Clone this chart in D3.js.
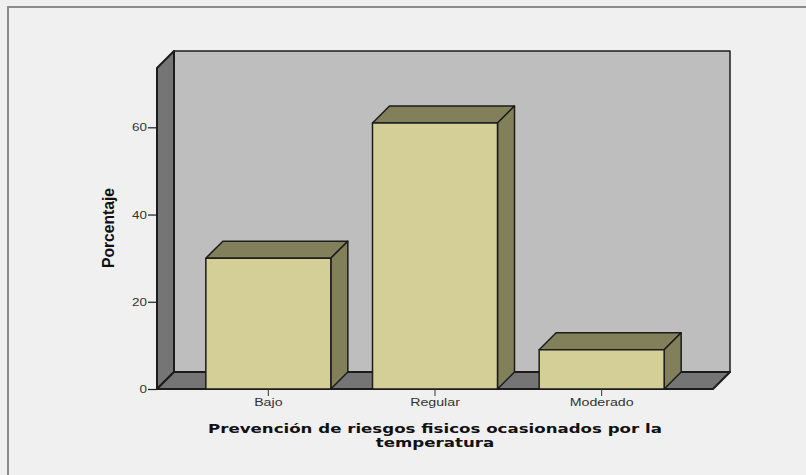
<!DOCTYPE html>
<html><head><meta charset="utf-8">
<script src="https://cdn.jsdelivr.net/npm/d3@7/dist/d3.min.js"></script>
<style>html,body{margin:0;padding:0;background:#f0f0f0}svg{display:block}</style>
</head><body><svg id="c" width="806" height="475"></svg>
<script>
const categories = ["Bajo","Regular","Moderado"];
const values = [30, 61, 9];
const yTicks = [0,20,40,60];
const xTitle = ["Prevención de riesgos fisicos ocasionados por la","temperatura"];
const yTitle = "Porcentaje";

const depth = 17, x0 = 157, x1 = 713, yBase = 389, yTop = 68;
const y = d3.scaleLinear().domain([0,73.6]).range([yBase,yTop]);
const x = d3.scaleBand().domain(categories).range([x0,x1]).paddingInner(0.25).paddingOuter(0.293);
const svg = d3.select("#c");
const stroke = "#1c1c1c";

svg.append("rect").attr("width",806).attr("height",475).attr("fill","#f0f0f0");
svg.append("path").attr("d","M8,475V7H806").attr("fill","none").attr("stroke","#8c8c8c").attr("stroke-width",2);

const poly = (pts,fill,sw=1.5)=>svg.append("polygon").attr("points",pts.map(p=>p.join(",")).join(" "))
  .attr("fill",fill).attr("stroke",stroke).attr("stroke-width",sw).attr("stroke-linejoin","round");

// walls
poly([[x0+depth,yTop-depth],[x1+depth,yTop-depth],[x1+depth,yBase-depth],[x0+depth,yBase-depth]],"#bebebe");
poly([[x0,yTop],[x0+depth,yTop-depth],[x0+depth,yBase-depth],[x0,yBase]],"#757575",2);
poly([[x0,yBase],[x0+depth,yBase-depth],[x1+depth,yBase-depth],[x1,yBase]],"#757575",2);

// bars
categories.forEach((c,i)=>{
  const l=x(c), r=l+x.bandwidth(), t=y(values[i]);
  poly([[l,t],[l+depth,t-depth],[r+depth,t-depth],[r,t]],"#82805a");
  poly([[r,t],[r+depth,t-depth],[r+depth,yBase-depth],[r,yBase]],"#82805a");
  poly([[l,t],[r,t],[r,yBase],[l,yBase]],"#d3cf96");
});

// widen text horizontally to match the reference's stretched glyphs
const stretch = (sel,k)=>sel.each(function(){
  const len=this.getComputedTextLength();
  d3.select(this).attr("textLength",len*k).attr("lengthAdjust","spacingAndGlyphs");
});

// axes
const fontA = "'Liberation Sans',Arial,sans-serif";
const ga = svg.append("g").attr("transform",`translate(${x0},0)`)
  .call(d3.axisLeft(y).tickValues(yTicks).tickSize(9).tickPadding(1).tickSizeOuter(0));
ga.select(".domain").remove();
ga.selectAll("line").attr("stroke",stroke).attr("stroke-width",1.2);
ga.selectAll("text").attr("font-family",fontA).attr("font-size",11).attr("fill","#333").call(stretch,1.22);

const gb = svg.append("g").attr("transform",`translate(0,${yBase})`)
  .call(d3.axisBottom(x).tickSize(7).tickPadding(3).tickSizeOuter(0));
gb.select(".domain").remove();
gb.selectAll("line").attr("stroke","#333").attr("stroke-width",1);
gb.selectAll("text").attr("font-family",fontA).attr("font-size",10).attr("fill","#333").call(stretch,1.42);

// titles
svg.selectAll("text.xt").data(xTitle).join("text").attr("class","xt")
  .attr("x",435).attr("y",(d,i)=>432.5+i*14).attr("text-anchor","middle")
  .attr("font-family","'DejaVu Sans',sans-serif").attr("font-weight","bold").attr("font-size",12.5).attr("fill","#111")
  .text(d=>d).call(stretch,1.33);
svg.append("text").attr("transform","translate(114,228) rotate(-90)").attr("text-anchor","middle")
  .attr("font-family",fontA).attr("font-weight","bold").attr("font-size",16).attr("fill","#111")
  .attr("textLength",80).attr("lengthAdjust","spacingAndGlyphs").text(yTitle);
</script></body></html>
